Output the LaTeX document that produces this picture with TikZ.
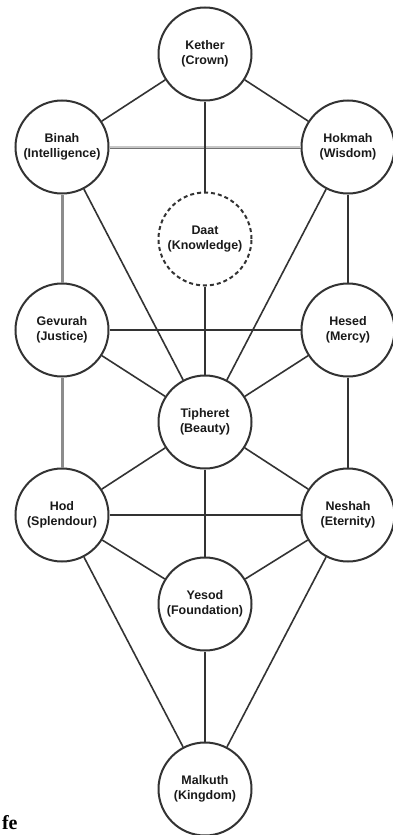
\documentclass[tikz,border=0pt]{standalone}
\usepackage{fontspec}
\setmainfont{Liberation Sans}
\newfontfamily\serifbold{Liberation Serif}
\usepackage{tikz}
\usetikzlibrary{positioning}
\definecolor{ink}{HTML}{333333}

\begin{document}
\begin{tikzpicture}[x=1bp,y=-1bp,
                every node/.style={circle,draw=ink,line width=2bp,minimum size=93bp,inner sep=0pt,
                    align=center,text=black!90,font=\bfseries\fontsize{12.5}{15}\selectfont},
                every edge/.append style={draw=ink,line width=1.6bp},
                pillar/.style={draw=black!45,line width=3bp},
                abyss/.style={draw=black!55,double=black!22,double distance=1.2bp,line width=0.9bp},
                hidden/.style={dash pattern=on 4bp off 3bp}
            ]
                \useasboundingbox (0,0) rectangle (392,835);
                \node (kether) at (205,54) {Kether\\(Crown)};
                \node (binah) at (62,147) {Binah\\(Intelligence)}
                    edge (kether)
                ;
                \node (hokmah) at (348,147) {Hokmah\\(Wisdom)}
                    edge (kether)
                    edge[abyss] (binah)
                ;
                \node[hidden] (daat) at (205,239) {Daat\\(Knowledge)}
                    edge (kether)
                ;
                \node (gevurah) at (62,330) {Gevurah\\(Justice)}
                    edge[pillar] (binah)
                ;
                \node (hesed) at (348,330) {Hesed\\(Mercy)}
                    edge (hokmah)
                    edge (gevurah)
                ;
                \node (tipheret) at (205,422) {Tipheret\\(Beauty)}
                    edge (binah)
                    edge (hokmah)
                    edge (daat)
                    edge (gevurah)
                    edge (hesed)
                ;
                \node (hod) at (62,515) {Hod\\(Splendour)}
                    edge[pillar] (gevurah)
                    edge (tipheret)
                ;
                \node (neshah) at (348,515) {Neshah\\(Eternity)}
                    edge (hesed)
                    edge (tipheret)
                    edge (hod)
                ;
                \node (yesod) at (205,604) {Yesod\\(Foundation)}
                    edge (tipheret)
                    edge (hod)
                    edge (neshah)
                ;
                \node (malkuth) at (205,789) {Malkuth\\(Kingdom)}
                    edge (hod)
                    edge (neshah)
                    edge (yesod)
                ;
                \node[rectangle,draw=none,minimum size=0pt,anchor=base west,text=black,
                    font=\serifbold\bfseries\fontsize{20}{20}\selectfont] (fe) at (1,829) {fe};
            \end{tikzpicture}
\end{document}
